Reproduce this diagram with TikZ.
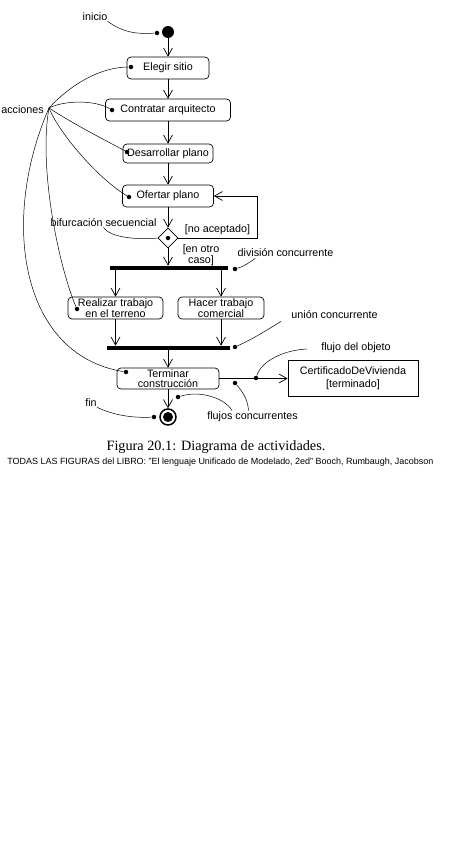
\documentclass[tikz,border=0pt]{standalone}
\usepackage{fontspec}
\setmainfont{Liberation Sans}
\newfontfamily\capfont{Liberation Serif}
\usetikzlibrary{arrows.meta,shapes.geometric,calc}
\begin{document}
\begin{tikzpicture}[x=1bp,y=-1bp,line width=0.7bp,
 every node/.style={inner sep=0pt},
 act/.style={draw,rounded corners=4bp,align=center,font=\fontsize{10.8}{10.5}\selectfont},
 obj/.style={draw,align=center,font=\fontsize{10.8}{13}\selectfont},
 lbl/.style={font=\fontsize{10.8}{12}\selectfont},
 flow/.style={-{Straight Barb[length=8bp,width=9bp]}},
 pt/.style={circle,fill,minimum size=4.5bp},
 syncbar/.style={fill,minimum height=4bp},
 note/.style={line width=0.5bp}]
\fill[white] (0,0) rectangle (475,848);
\useasboundingbox (0,0) rectangle (475,848);

% activity nodes
\node[circle,fill,minimum size=12bp] (ini) at (168,32) {};
\node[act,minimum width=82bp,minimum height=22bp] (elegir) at (168,68) {Elegir sitio};
\node[act,minimum width=125bp,minimum height=22bp] (contratar) at (168,110) {Contratar arquitecto};
\node[act,minimum width=90bp,minimum height=19bp] (desarrollar) at (168,153.5) {Desarrollar plano};
\node[act,minimum width=91bp,minimum height=22bp] (ofertar) at (168,196) {Ofertar plano};
\node[diamond,draw,minimum size=20bp] (dia) at (168,238) {};
\node[pt] (diadot) at (dia.center) {};
\node[syncbar,minimum width=118bp] (fork) at (169,268) {};
\node[act,minimum width=95bp,minimum height=22bp] (realizar) at (115.5,308) {Realizar trabajo\\en el terreno};
\node[act,minimum width=86bp,minimum height=22bp] (hacer) at (221,308) {Hacer trabajo\\comercial};
\node[syncbar,minimum width=123bp] (join) at (168,348) {};
\node[act,minimum width=102bp,minimum height=21bp] (terminar) at (168,378.5) {Terminar\\construcción};
\node[obj,minimum width=130bp,minimum height=36bp] (cert) at (353,378) {CertificadoDeVivienda\\{}[terminado]};
\node[circle,draw,line width=1.5bp,minimum size=16bp] (fin) at (168,417) {};
\node[circle,fill,minimum size=10bp] (finin) at (168,417) {};

% labels
\node[lbl] (linicio) at (95,17) {inicio};
\node[lbl,anchor=west] (lacc) at (1,110) {acciones};
\node[lbl] (lbif) at (103.5,223) {bifurcación secuencial};
\node[lbl] (lnoac) at (217.5,230) {[no aceptado]};
\node[lbl,align=center,font=\fontsize{10.8}{10}\selectfont] (lotro) at (201,255) {[en otro\\caso]};
\node[lbl] (ldiv) at (285.5,253) {división concurrente};
\node[lbl] (lunion) at (334.5,315) {unión concurrente};
\node[lbl] (lflujo) at (356,348) {flujo del objeto};
\node[lbl] (lconc) at (252.5,417) {flujos concurrentes};
\node[lbl] (lfin) at (91,403) {fin};

% dots
\node[pt] (dini) at (157,33) {};
\node[pt] (de) at (131,67) {};
\node[pt] (dc) at (112,110) {};
\node[pt] (dd) at (127,152) {};
\node[pt] (dof) at (129,197) {};
\node[pt] (dr) at (77,309) {};
\node[pt] (dt) at (126,372) {};
\node[pt] (dfork) at (235,269) {};
\node[pt] (djoin) at (235,347) {};
\node[pt] (dflujo) at (256,378) {};
\node[pt] (dc1) at (235,383) {};
\node[pt] (dc2) at (178,397) {};
\node[pt] (dfin) at (154,417) {};
\coordinate (hub) at (49,108);
\coordinate (loop) at (257,238);

% flows
\draw[flow] (ini) -- (elegir);
\draw[flow] (elegir) -- (contratar);
\draw[flow] (contratar) -- (desarrollar);
\draw[flow] (desarrollar) -- (ofertar);
\draw[flow] (ofertar) -- (dia);
\draw[flow] (dia) -- (dia |- fork.north);
\draw[flow] (dia.east) -- (loop) |- (ofertar.east);
\draw[flow] (realizar.north |- fork.south) -- (realizar);
\draw[flow] (hacer.north |- fork.south) -- (hacer);
\draw[flow] (realizar) -- (realizar |- join.north);
\draw[flow] (hacer) -- (hacer |- join.north);
\draw[flow] (join) -- (terminar);
\draw[flow] (terminar.east) -- (cert.west |- terminar.east);
\draw[flow] (terminar) -- (fin);

% notes
\draw[note] (linicio.south east) .. controls (125,34) and (140,34) .. (dini);
\draw[note] (hub) .. controls (70,85) and (100,67) .. (de);
\draw[note] (hub) .. controls (65,100) and (95,100) .. (dc);
\draw[note] (hub) .. controls (75,125) and (105,140) .. (dd);
\draw[note] (hub) .. controls (60,135) and (100,180) .. (dof);
\draw[note] (hub) .. controls (38,170) and (60,270) .. (dr);
\draw[note] (hub) .. controls (0,220) and (20,355) .. (dt);
\draw[note] (lbif.south) .. controls (110,238) and (140,240) .. (dia.west);
\draw[note] (dfork) .. controls (245,266) and (250,262) .. ($(ldiv.south west)+(18,1)$);
\draw[note] (djoin) .. controls (255,338) and (270,328) .. ($(lunion.south west)+(-10,2)$);
\draw[note] (dflujo) .. controls (262,360) and (285,350) .. ($(lflujo.west)+(-14,1)$);
\draw[note] (dc1) .. controls (243,392) and (248,400) .. ($(lconc.north)+(-4,-1)$);
\draw[note] (dc2) .. controls (200,390) and (225,398) .. ($(lconc.north west)+(25,-1)$);
\draw[note] (lfin.south east) .. controls (115,416) and (135,418) .. (dfin);

% caption
\node[font=\capfont\fontsize{14.3}{16}\selectfont] (cap) at (216,447) {Figura 20.1: Diagrama de actividades.};
\node[font=\fontsize{9}{10}\selectfont,anchor=west] (src) at (7,462) {TODAS LAS FIGURAS del LIBRO: "El lenguaje Unificado de Modelado, 2ed" Booch, Rumbaugh, Jacobson};
\end{tikzpicture}
\end{document}
